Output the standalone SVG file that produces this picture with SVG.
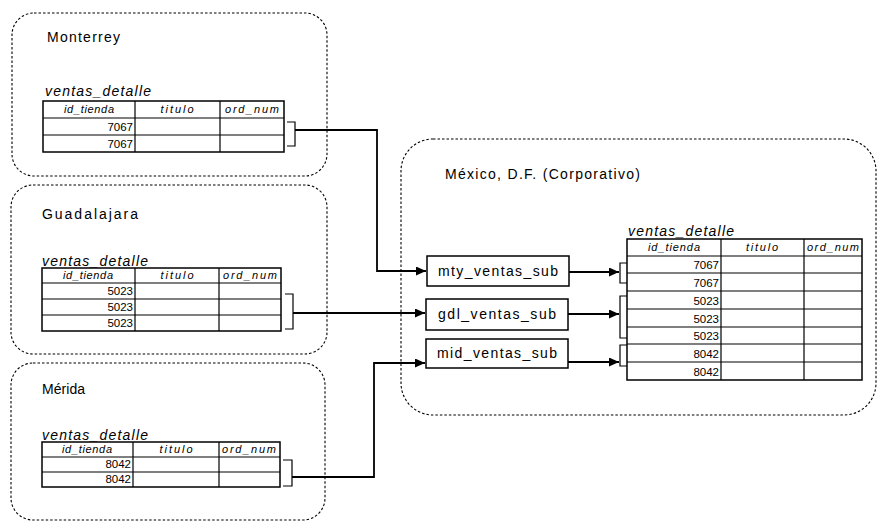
<svg xmlns="http://www.w3.org/2000/svg" width="880" height="524" viewBox="0 0 880 524">
<defs>
<marker id="arr" markerUnits="userSpaceOnUse" markerWidth="11" markerHeight="10" refX="10" refY="4.5" orient="auto"><path d="M0,0 L10,4.5 L0,9 z" fill="#000"/></marker>
<style>
.site{fill:none;stroke:#000;stroke-width:1.1;stroke-dasharray:2.5 2}
.grid{fill:#fff;stroke:#000;stroke-width:1.5}
.ln{fill:none;stroke:#000;stroke-width:1.2}
.con{fill:none;stroke:#000;stroke-width:1.8}
.title{font-family:"Liberation Sans",Arial,sans-serif;font-size:14px;fill:#000}
.tname{font-family:"Liberation Sans",Arial,sans-serif;font-size:14px;font-style:italic;fill:#000}
.hd{font-family:"Liberation Sans",Arial,sans-serif;font-size:11px;font-style:italic;fill:#000;text-anchor:middle}
.val{font-family:"Liberation Sans",Arial,sans-serif;font-size:11.5px;fill:#000;text-anchor:end}
.box{fill:#fff;stroke:#000;stroke-width:1.5}
.lbl{font-family:"Liberation Sans",Arial,sans-serif;font-size:14px;fill:#000;text-anchor:middle}
</style>
</defs>
<rect width="880" height="524" fill="#fff"/>

<g id="monterrey">
<rect class="site" x="12" y="13" width="315" height="163" rx="22"/>
<text class="title" x="47" y="42" textLength="73" lengthAdjust="spacing">Monterrey</text>
<text class="tname" x="45" y="96" textLength="106" lengthAdjust="spacing">ventas_detalle</text>
<rect class="grid" x="43" y="101" width="241" height="51"/>
<path class="ln" d="M43,118 H284 M43,135 H284 M135,101 V152 M220,101 V152"/>
<text class="hd" x="89" y="113" textLength="50" lengthAdjust="spacing">id_tienda</text>
<text class="hd" x="177" y="113" textLength="33" lengthAdjust="spacing">titulo</text>
<text class="hd" x="252" y="113" textLength="54" lengthAdjust="spacing">ord_num</text>
<text class="val" x="133" y="131">7067</text>
<text class="val" x="133" y="148">7067</text>
<path class="ln" d="M287,122 H295 V146 H287"/>
</g>

<g id="guadalajara">
<rect class="site" x="11" y="185" width="316" height="169" rx="22"/>
<text class="title" x="42" y="219" textLength="96" lengthAdjust="spacing">Guadalajara</text>
<text class="tname" x="42" y="266" textLength="106" lengthAdjust="spacing">ventas_detalle</text>
<rect class="grid" x="42" y="268" width="239" height="63"/>
<path class="ln" d="M42,283 H281 M42,299 H281 M42,315 H281 M135,268 V331 M219,268 V331"/>
<text class="hd" x="88" y="279" textLength="50" lengthAdjust="spacing">id_tienda</text>
<text class="hd" x="177" y="279" textLength="33" lengthAdjust="spacing">titulo</text>
<text class="hd" x="250" y="279" textLength="54" lengthAdjust="spacing">ord_num</text>
<text class="val" x="133" y="295">5023</text>
<text class="val" x="133" y="311">5023</text>
<text class="val" x="133" y="327">5023</text>
<path class="ln" d="M285,294 H293 V329 H285"/>
</g>

<g id="merida">
<rect class="site" x="11" y="363" width="314" height="157" rx="22"/>
<text class="title" x="42" y="394" textLength="43" lengthAdjust="spacing">Mérida</text>
<text class="tname" x="42" y="440" textLength="106" lengthAdjust="spacing">ventas_detalle</text>
<rect class="grid" x="42" y="442" width="238" height="45"/>
<path class="ln" d="M42,457 H280 M42,472 H280 M133,442 V487 M219,442 V487"/>
<text class="hd" x="87" y="453" textLength="50" lengthAdjust="spacing">id_tienda</text>
<text class="hd" x="176" y="453" textLength="33" lengthAdjust="spacing">titulo</text>
<text class="hd" x="249" y="453" textLength="54" lengthAdjust="spacing">ord_num</text>
<text class="val" x="131" y="468">8042</text>
<text class="val" x="131" y="483">8042</text>
<path class="ln" d="M283,460 H292 V486 H283"/>
</g>

<g id="mexico">
<rect class="site" x="401" y="139" width="475" height="276" rx="32"/>
<text class="title" x="445" y="179" textLength="195" lengthAdjust="spacing">México, D.F. (Corporativo)</text>
<text class="tname" x="628" y="236" textLength="106" lengthAdjust="spacing">ventas_detalle</text>
<rect class="grid" x="627" y="239" width="235" height="141"/>
<path class="ln" d="M627,256 H862 M627,273 H862 M627,291 H862 M627,309 H862 M627,327 H862 M627,344 H862 M627,362 H862 M721,239 V380 M804,239 V380"/>
<text class="hd" x="674" y="251" textLength="52" lengthAdjust="spacing">id_tienda</text>
<text class="hd" x="762" y="251" textLength="32" lengthAdjust="spacing">titulo</text>
<text class="hd" x="833" y="251" textLength="52" lengthAdjust="spacing">ord_num</text>
<text class="val" x="719" y="269">7067</text>
<text class="val" x="719" y="287">7067</text>
<text class="val" x="719" y="305">5023</text>
<text class="val" x="719" y="323">5023</text>
<text class="val" x="719" y="340">5023</text>
<text class="val" x="719" y="358">8042</text>
<text class="val" x="719" y="376">8042</text>
<path class="ln" d="M627,263 H620 V283 H627 M627,296 H620 V338 H627 M627,345 H620 V366 H627"/>
</g>

<g id="mty_ventas_sub">
<rect class="box" x="427" y="256" width="142" height="30"/>
<text class="lbl" x="498" y="276" textLength="120" lengthAdjust="spacing">mty_ventas_sub</text>
</g>
<g id="gdl_ventas_sub">
<rect class="box" x="426" y="299" width="142" height="31"/>
<text class="lbl" x="497" y="319" textLength="118" lengthAdjust="spacing">gdl_ventas_sub</text>
</g>
<g id="mid_ventas_sub">
<rect class="box" x="426" y="339" width="142" height="29"/>
<text class="lbl" x="497" y="358" textLength="120" lengthAdjust="spacing">mid_ventas_sub</text>
</g>

<g id="connectors">
<path class="con" d="M295,130 H377 V271 H426" marker-end="url(#arr)"/>
<path class="con" d="M293,313 H425" marker-end="url(#arr)"/>
<path class="con" d="M292,477 H374 V363 H425" marker-end="url(#arr)"/>
<path class="con" d="M569,272 H619" marker-end="url(#arr)"/>
<path class="con" d="M568,314 H619" marker-end="url(#arr)"/>
<path class="con" d="M568,362 H619" marker-end="url(#arr)"/>
</g>
</svg>
